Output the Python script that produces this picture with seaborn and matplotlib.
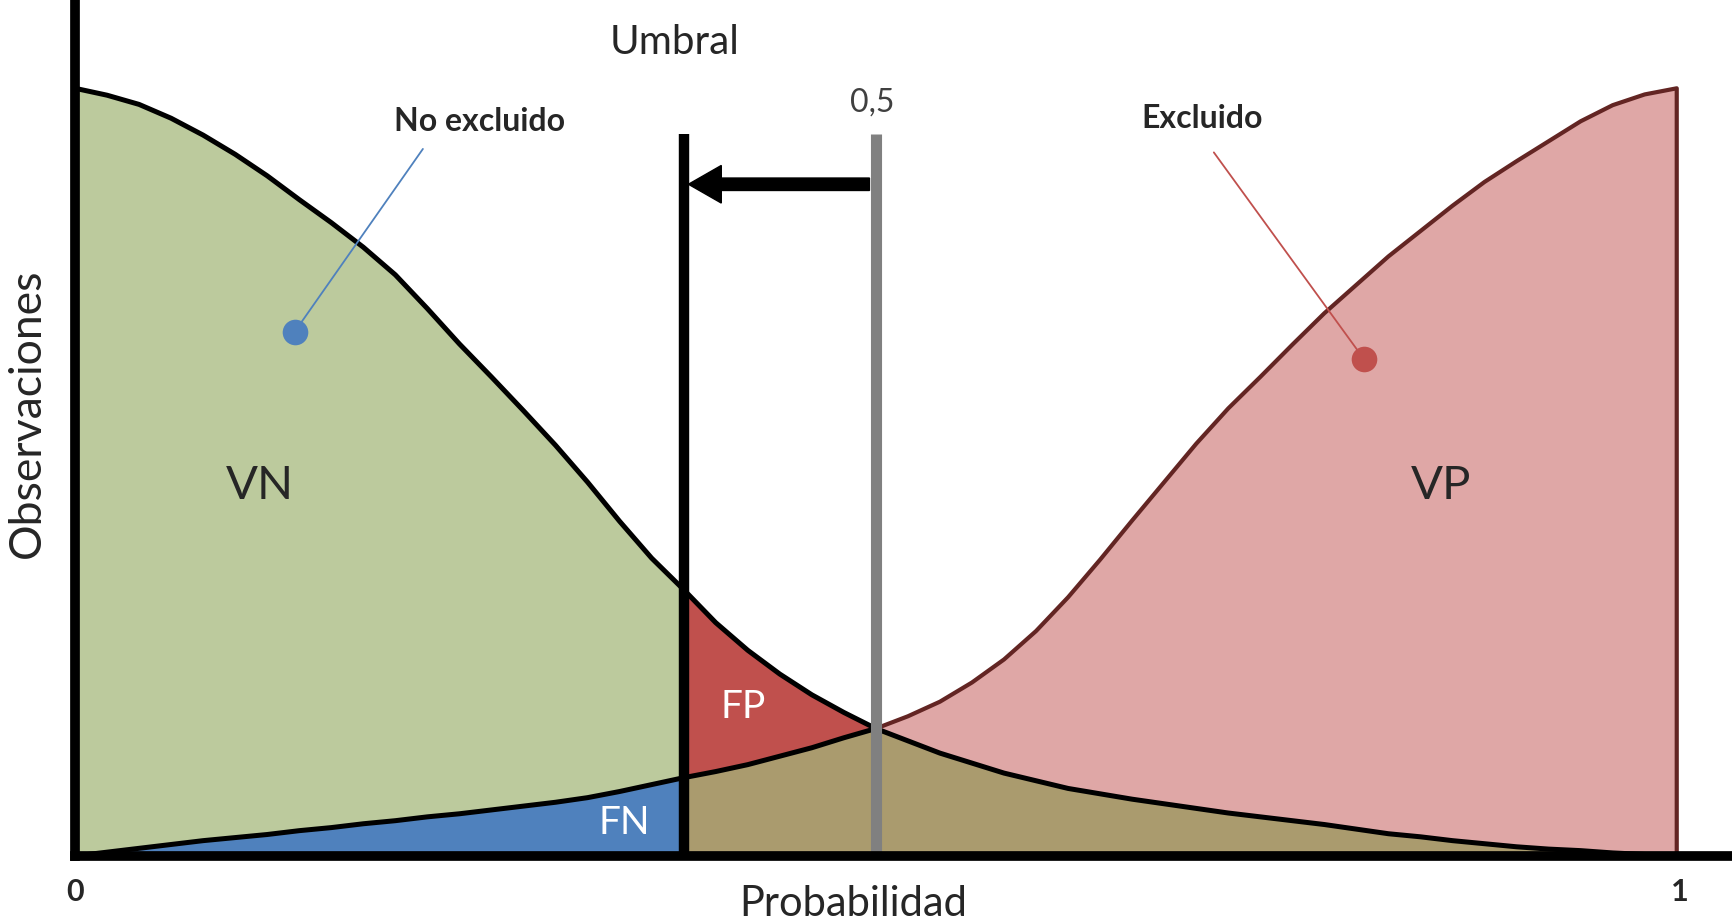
import matplotlib
matplotlib.use("Agg")
import matplotlib.pyplot as plt
import seaborn as sns
import numpy as np

# probability grid shared by both class curves
prob = [0.00, 0.02, 0.04, 0.06, 0.08, 0.10, 0.12, 0.14, 0.16, 0.18, 0.20, 0.22, 0.24,
        0.26, 0.28, 0.30, 0.32, 0.34, 0.36, 0.38, 0.40, 0.42, 0.44, 0.46, 0.48, 0.50,
        0.52, 0.54, 0.56, 0.58, 0.60, 0.62, 0.64, 0.66, 0.68, 0.70, 0.72, 0.74, 0.76,
        0.78, 0.80, 0.82, 0.84, 0.86, 0.88, 0.90, 0.92, 0.94, 0.96, 0.98, 1.00]
# observations of the "no excluido" class (negatives)
neg_obs = [1.000, 0.991, 0.979, 0.961, 0.939, 0.914, 0.886, 0.855, 0.825, 0.793, 0.757,
           0.713, 0.667, 0.624, 0.580, 0.535, 0.487, 0.436, 0.388, 0.347, 0.304, 0.268,
           0.237, 0.210, 0.187, 0.166, 0.150, 0.134, 0.121, 0.108, 0.098, 0.088, 0.081,
           0.074, 0.068, 0.062, 0.056, 0.051, 0.046, 0.041, 0.035, 0.029, 0.025, 0.020,
           0.016, 0.012, 0.009, 0.007, 0.004, 0.002, 0.000]
# observations of the "excluido" class (positives)
pos_obs = [0.000, 0.005, 0.010, 0.015, 0.020, 0.024, 0.028, 0.033, 0.037, 0.042, 0.046,
           0.051, 0.055, 0.060, 0.065, 0.070, 0.076, 0.084, 0.093, 0.102, 0.110, 0.119,
           0.130, 0.141, 0.154, 0.166, 0.182, 0.201, 0.226, 0.256, 0.293, 0.337, 0.386,
           0.437, 0.487, 0.537, 0.583, 0.624, 0.666, 0.707, 0.744, 0.781, 0.814, 0.847,
           0.878, 0.905, 0.931, 0.957, 0.978, 0.992, 1.000]
threshold = 0.38
default_cut = 0.5

green = "#BCCA9D"
blue = "#4F81BD"
red = "#C0504D"
pink = "#DFA7A6"
olive = "#AA9B6E"
brown = "#632523"

sns.set_style("white")
plt.rcParams['font.family'] = ['Lato', 'DejaVu Sans']

fig = plt.figure(figsize=(17.32, 9.23), dpi=100)
ax = fig.add_axes([75 / 1732, 67 / 923, 1 - 75 / 1732, 856 / 923])

x = np.array(prob)
neg = np.array(neg_obs)
pos = np.array(pos_obs)
left = x <= threshold
right = x >= threshold
low = np.minimum(neg, pos)

ax.fill_between(x, 0, pos, where=left, color=blue, lw=0, zorder=1)
ax.fill_between(x, pos, neg, where=left, color=green, lw=0, zorder=1)
ax.fill_between(x, 0, low, where=right, color=olive, lw=0, zorder=1)
ax.fill_between(x, pos, neg, where=right & (neg >= pos), color=red, lw=0,
                interpolate=True, zorder=1)
ax.fill_between(x, neg, pos, where=right & (pos >= neg), color=pink, lw=0,
                interpolate=True, zorder=1)

# curves
sns.lineplot(x=prob, y=neg_obs, color="black", lw=3.6, ax=ax, estimator=None,
             sort=False, zorder=3, solid_joinstyle="round")
half = x <= default_cut
sns.lineplot(x=x[half], y=pos[half], color="black", lw=3.6, ax=ax, estimator=None,
             sort=False, zorder=3, solid_joinstyle="round")
keep = x >= default_cut
rx = list(x[keep]) + [1.0]
ry = list(pos[keep]) + [0.0]
sns.lineplot(x=rx, y=ry, color=brown, lw=3.0, ax=ax, estimator=None, sort=False,
             zorder=3, solid_joinstyle="round")

# threshold lines and arrow
ax.plot([threshold, threshold], [0, 0.941], color="black", lw=7.5, zorder=4,
        solid_capstyle="butt")
ax.plot([default_cut, default_cut], [0, 0.941], color="#808080", lw=8, zorder=4,
        solid_capstyle="butt")
ax.arrow(0.496, 0.875, 0.383 - 0.496, 0, width=0.0162, head_width=0.049,
         head_length=0.0205, length_includes_head=True, color="black", zorder=5)

# callouts
ax.plot([0.2172, 0.1372], [0.921, 0.683], color=blue, lw=1.3, zorder=5)
ax.scatter([0.1372], [0.683], s=340, color=blue, zorder=6, linewidths=0)
ax.plot([0.711, 0.8048], [0.9165, 0.647], color=red, lw=1.3, zorder=5)
ax.scatter([0.8048], [0.647], s=340, color=red, zorder=6, linewidths=0)

ax.text(0.3745, 1.060, "Umbral", fontsize=29, ha="center", va="center")
ax.text(0.2524, 0.957, "No excluido", fontsize=23, fontweight="bold", ha="center", va="center")
ax.text(0.7034, 0.961, "Excluido", fontsize=23, fontweight="bold", ha="center", va="center")
ax.text(0.498, 0.981, "0,5", fontsize=23, color="#404040", ha="center", va="center")
ax.text(0.1152, 0.482, "VN", fontsize=34, ha="center", va="center")
ax.text(0.853, 0.482, "VP", fontsize=34, ha="center", va="center")
ax.text(0.417, 0.194, "FP", fontsize=28, color="white", ha="center", va="center", zorder=6)
ax.text(0.343, 0.043, "FN", fontsize=28, color="white", ha="center", va="center", zorder=6)
ax.text(0.0, -0.0475, "0", fontsize=22, fontweight="bold", ha="center", va="center")
ax.text(1.002, -0.0475, "1", fontsize=22, fontweight="bold", ha="center", va="center")
ax.text(0.486, -0.063, "Probabilidad", fontsize=30, ha="center", va="center")
ax.text(-0.030, 0.577, "Observaciones", fontsize=32, rotation=90, ha="center", va="center")

ax.set_xlim(0, 1.0345)
ax.set_ylim(0, 1.115)
ax.set_xticks([])
ax.set_yticks([])
sns.despine(ax=ax)
for side in ["left", "bottom"]:
    ax.spines[side].set_linewidth(7)
    ax.spines[side].set_color("black")
    ax.spines[side].set_zorder(7)

fig.savefig("out.png", dpi=100)
plt.close(fig)
